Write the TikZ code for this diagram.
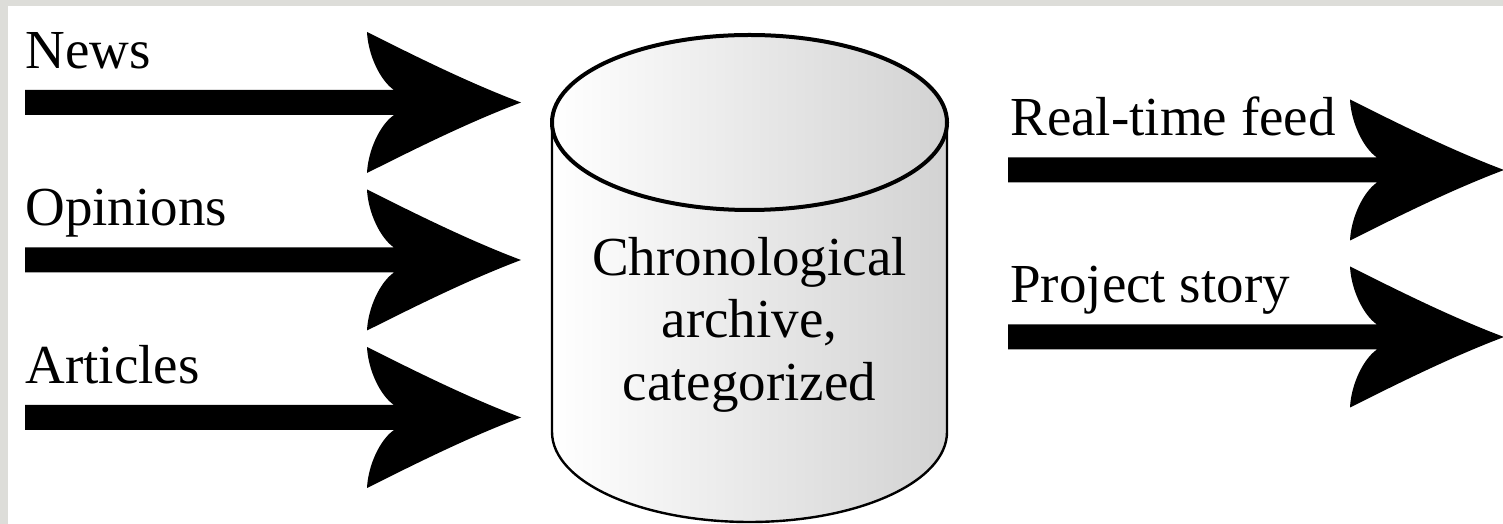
\documentclass[tikz,border=0pt]{standalone}
\usepackage{fontspec}
\setmainfont{Liberation Serif}
\definecolor{panelgray}{HTML}{DDDDD9}
\tikzset{
	pics/fatarrow/.style={code={
		\fill[black] (0,12.5) -- (369,12.5)
		.. controls (355,22) and (343,48) .. (342,70.5)
		.. controls (391,46) and (443,20) .. (496,0)
		.. controls (443,-20) and (391,-46) .. (342,-70.5)
		.. controls (343,-48) and (355,-22) .. (369,-12.5)
		-- (0,-12.5) -- cycle;
	}},
	flowlabel/.style={anchor=base west, inner sep=0pt, font=\fontsize{27.5}{31.25}\selectfont}
}

\begin{document}
\begin{tikzpicture}[x=0.5pt, y=0.5pt]
	\useasboundingbox (0,0) rectangle (1503,524);
	%background
	\fill[panelgray] (0,0) rectangle (1503,524);
	\fill[white] (8,0) rectangle (1503,518);
	%inputs
	\foreach \y/\name/\ltext in {
		421.5/news/News,
		264/opinions/Opinions,
		106.5/articles/Articles
	}
	{
		\coordinate (\name in) at (25,\y);
		\pic at (\name in) {fatarrow};
		\node[flowlabel] (\name) at (25,\y+34) {\ltext};
	}
	%archive
	\shade[left color=white, right color=gray!35] (552,401.5) -- (552,92)
		arc[start angle=180, end angle=360, x radius=197.5, y radius=90]
		-- (947,401.5)
		arc[start angle=0, end angle=180, x radius=197.5, y radius=87.5] -- cycle;
	\draw[line width=1.2pt] (552,401.5) -- (552,92)
		arc[start angle=180, end angle=360, x radius=197.5, y radius=90]
		-- (947,401.5);
	\draw[line width=2pt] (749.5,401.5) ellipse[x radius=197.5, y radius=87.5];
	\node[align=center, inner sep=0pt, font=\fontsize{27.5}{31.25}\selectfont] (archive) at (749.5,199.3)
	{Chronological\\archive,\\categorized};
	%outputs
	\foreach \y/\name/\ltext in {
		354/feed/Real-time feed,
		187/story/Project story
	}
	{
		\coordinate (\name out) at (1008,\y);
		\pic at (\name out) {fatarrow};
		\node[flowlabel] (\name) at (1010,\y+34.5) {\ltext};
	}
\end{tikzpicture}
\end{document}
